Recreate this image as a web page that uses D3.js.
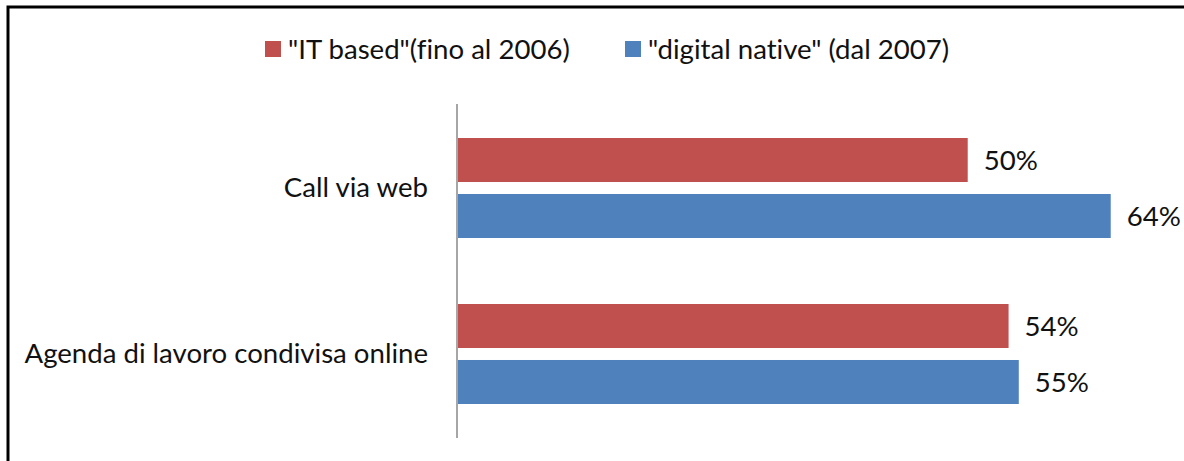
<!DOCTYPE html>
<html>
<head>
<meta charset="utf-8">
<script src="https://cdn.jsdelivr.net/npm/d3@7"></script>
<style>
  html, body { margin: 0; padding: 0; background: #fff; }
  svg { display: block; }
  text { font-family: Lato, "Open Sans", sans-serif; fill: #111; font-variant-ligatures: none; }
</style>
</head>
<body>
<svg id="chart" width="1184" height="461"></svg>
<script>
// Survey answers by company generation
const categories = ["Call via web", "Agenda di lavoro condivisa online"];
const seriesNames = ["\"IT based\"(fino al 2006)", "\"digital native\" (dal 2007)"];
const itBased = [50, 54];
const digitalNative = [64, 55];
const seriesColors = ["#C0504D", "#4F81BD"];

const W = 1184, H = 461;
const svg = d3.select("#chart");
const fontSize = 27.6;

// Outer frame (top and left edges visible)
svg.append("path")
  .attr("d", `M8,${H} L8,7 L${W},7`)
  .attr("fill", "none")
  .attr("stroke", "#000")
  .attr("stroke-width", 3);

const plot = { left: 457, top: 104, bottom: 438 };
const x = d3.scaleLinear().domain([0, 70]).range([plot.left, plot.left + 715]);
const y0 = d3.scaleBand().domain(categories).range([plot.top + 1, plot.bottom - 1])
  .paddingInner(0.3976).paddingOuter(0.1988);
const y1 = d3.scaleBand().domain([0, 1]).range([0, y0.bandwidth()]).paddingInner(0.214);

const rows = categories.map((c, i) => ({ cat: c, vals: [itBased[i], digitalNative[i]] }));

const groups = svg.selectAll("g.cat").data(rows).join("g")
  .attr("class", "cat")
  .attr("transform", d => `translate(0,${y0(d.cat)})`);

groups.selectAll("rect").data(d => d.vals.map((v, s) => ({ v, s }))).join("rect")
  .attr("x", x(0))
  .attr("y", d => y1(d.s))
  .attr("width", d => x(d.v) - x(0))
  .attr("height", y1.bandwidth())
  .attr("fill", d => seriesColors[d.s]);

groups.selectAll("text.val").data(d => d.vals.map((v, s) => ({ v, s }))).join("text")
  .attr("class", "val")
  .attr("x", d => x(d.v) + 16)
  .attr("y", d => y1(d.s) + y1.bandwidth() / 2)
  .attr("dy", "0.35em")
  .attr("font-size", fontSize)
  .text(d => d.v + "%");

// Category axis
const yAxis = d3.axisLeft(y0).tickSize(0).tickPadding(29);
const ax = svg.append("g").attr("transform", `translate(${plot.left},0)`).call(yAxis);
ax.select(".domain").attr("stroke", "#A6A6A6").attr("stroke-width", 2)
  .attr("d", `M0,${plot.top}V${plot.bottom}`);
ax.selectAll(".tick text")
  .attr("font-size", fontSize)
  .attr("font-family", "Lato, 'Open Sans', sans-serif")
  .attr("fill", "#111");

// Legend
const legendX = [265, 625];
const legend = svg.append("g");
seriesNames.forEach((name, i) => {
  legend.append("rect")
    .attr("x", legendX[i]).attr("y", 41)
    .attr("width", 16).attr("height", 16)
    .attr("fill", seriesColors[i]);
  legend.append("text")
    .attr("x", legendX[i] + 23).attr("y", 49)
    .attr("dy", "0.35em")
    .attr("font-size", fontSize)
    .text(name);
});
</script>
</body>
</html>
